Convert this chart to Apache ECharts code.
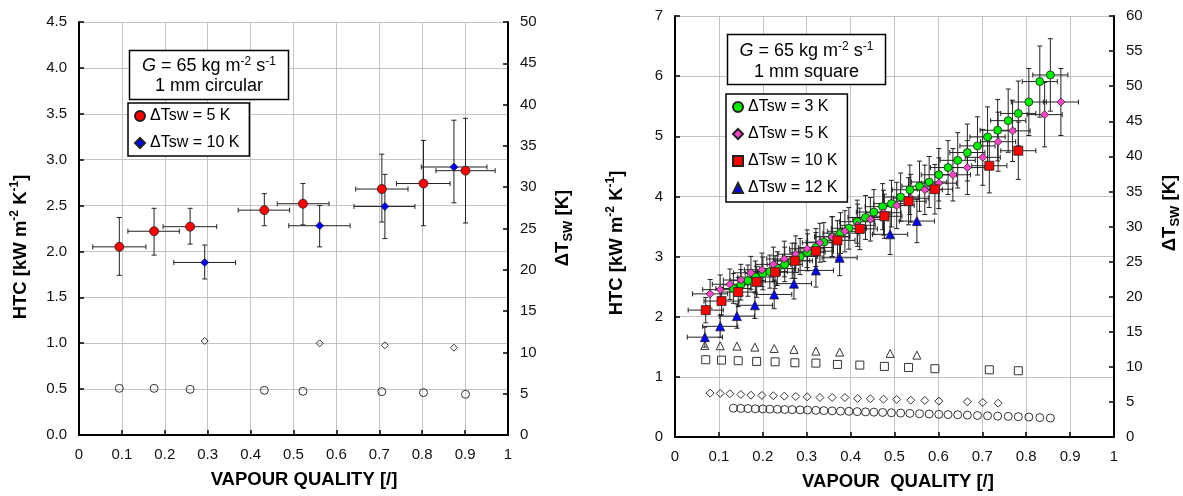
<!DOCTYPE html>
<html>
<head>
<meta charset="utf-8">
<script src="https://cdn.jsdelivr.net/npm/echarts@6/dist/echarts.min.js"></script>
<style>html,body{margin:0;padding:0;background:#fff}#c{width:1183px;height:496px}</style>
</head>
<body>
<div id="c"></div>
<script>
const FONT = '"Liberation Sans", Arial, Helvetica, sans-serif';

// ---------------- Left panel: G = 65, 1 mm circular ----------------
const circ5_x     = [0.094, 0.175, 0.259, 0.432, 0.522, 0.706, 0.803, 0.901];
const circ5_htc   = [2.05, 2.22, 2.27, 2.45, 2.52, 2.68, 2.74, 2.88];
const circ5_htcLo = [1.74, 1.96, 2.08, 2.28, 2.29, 2.32, 2.28, 2.31];
const circ5_htcHi = [2.37, 2.47, 2.47, 2.63, 2.74, 3.06, 3.21, 3.45];
const circ5_xLo   = [0.032, 0.114, 0.196, 0.371, 0.462, 0.645, 0.740, 0.832];
const circ5_xHi   = [0.156, 0.234, 0.321, 0.491, 0.583, 0.767, 0.865, 0.970];
const circ5_dT    = [5.65, 5.65, 5.53, 5.41, 5.29, 5.25, 5.13, 4.93];

const circ10_x     = [0.293, 0.561, 0.713, 0.874];
const circ10_htc   = [1.88, 2.28, 2.49, 2.92];
const circ10_htcLo = [1.70, 2.05, 2.14, 2.53];
const circ10_htcHi = [2.07, 2.50, 2.84, 3.43];
const circ10_xLo   = [0.221, 0.489, 0.641, 0.798];
const circ10_xHi   = [0.365, 0.632, 0.783, 0.951];
const circ10_dT    = [11.38, 11.10, 10.86, 10.57];

// ---------------- Right panel: G = 65, 1 mm square ----------------
const sq3_x   = [0.133, 0.150, 0.166, 0.183, 0.200, 0.216, 0.233, 0.250, 0.267, 0.285, 0.302, 0.321, 0.339,
                 0.358, 0.377, 0.396, 0.415, 0.434, 0.453, 0.473, 0.493, 0.514, 0.535, 0.557, 0.579, 0.601,
                 0.622, 0.644, 0.666, 0.689, 0.712, 0.735, 0.759, 0.782, 0.806, 0.831, 0.855];
const sq3_htc = [2.47, 2.53, 2.60, 2.66, 2.72, 2.75, 2.80, 2.87, 2.93, 3.00, 3.07, 3.15, 3.24,
                 3.33, 3.39, 3.47, 3.58, 3.65, 3.74, 3.83, 3.88, 3.99, 4.11, 4.17, 4.24, 4.36,
                 4.48, 4.60, 4.73, 4.84, 4.99, 5.10, 5.26, 5.38, 5.57, 5.91, 6.02];
const sq3_dT  = [4.11, 4.07, 4.05, 4.02, 4.00, 3.97, 3.95, 3.92, 3.90, 3.87, 3.84, 3.80, 3.76,
                 3.72, 3.68, 3.66, 3.62, 3.58, 3.54, 3.50, 3.45, 3.41, 3.37, 3.32, 3.28, 3.23,
                 3.19, 3.17, 3.12, 3.07, 3.03, 2.98, 2.94, 2.89, 2.84, 2.77, 2.70];

const sq5_x   = [0.080, 0.103, 0.125, 0.150, 0.173, 0.198, 0.224, 0.249, 0.275, 0.301, 0.330, 0.358, 0.387,
                 0.416, 0.445, 0.475, 0.505, 0.537, 0.569, 0.601, 0.633, 0.666, 0.701, 0.736, 0.769, 0.842, 0.879];
const sq5_htc = [2.38, 2.45, 2.54, 2.61, 2.73, 2.78, 2.87, 2.96, 3.04, 3.13, 3.23, 3.33, 3.42,
                 3.52, 3.62, 3.73, 3.85, 3.97, 4.11, 4.22, 4.36, 4.48, 4.65, 4.91, 5.09, 5.36, 5.57];
const sq5_dTx = [0.080, 0.103, 0.125, 0.150, 0.173, 0.198, 0.224, 0.249, 0.275, 0.301, 0.330, 0.358, 0.387,
                 0.416, 0.445, 0.475, 0.505, 0.537, 0.569, 0.601, 0.666, 0.701, 0.736];
const sq5_dT  = [6.25, 6.21, 6.16, 6.06, 5.96, 5.92, 5.88, 5.82, 5.78, 5.73, 5.63, 5.63, 5.63,
                 5.49, 5.45, 5.39, 5.35, 5.25, 5.21, 5.11, 5.02, 4.92, 4.82];

const sq10_x   = [0.070, 0.106, 0.144, 0.186, 0.228, 0.273, 0.321, 0.370, 0.421, 0.477, 0.532, 0.592, 0.716, 0.782];
const sq10_htc = [2.11, 2.26, 2.41, 2.58, 2.74, 2.93, 3.09, 3.27, 3.46, 3.67, 3.92, 4.12, 4.51, 4.76];
const sq10_dT  = [11.01, 10.96, 10.87, 10.77, 10.72, 10.58, 10.53, 10.34, 10.25, 10.06, 9.91, 9.73, 9.58, 9.44];

const sq12_x   = [0.068, 0.103, 0.141, 0.182, 0.226, 0.271, 0.321, 0.375, 0.490, 0.551];
const sq12_htc = [1.66, 1.84, 2.01, 2.19, 2.37, 2.55, 2.77, 2.98, 3.37, 3.59];
const sq12_dT  = [13.05, 13.00, 12.95, 12.81, 12.62, 12.48, 12.24, 12.10, 11.91, 11.67];

// measurement uncertainty used for the square-channel error bars
const HTC_REL_UNC = 0.10;   // +/- 10 % on HTC
const XQ_ABS_UNC  = 0.04;   // +/- 0.04 on vapour quality

const legendText = {
  c5: 'ΔTsw = 5 K', c10: 'ΔTsw = 10 K',
  s3: 'ΔTsw = 3 K', s5: 'ΔTsw = 5 K', s10: 'ΔTsw = 10 K', s12: 'ΔTsw = 12 K'
};

// ---------------- helpers ----------------
const pts = (xs, ys) => xs.map((x, i) => [x, ys[i]]);
const errRows = (xs, ys, xlo, xhi, ylo, yhi) => xs.map((x, i) => [x, ys[i], xlo[i], xhi[i], ylo[i], yhi[i]]);
const relErrRows = (xs, ys) => xs.map((x, i) => [x, ys[i], x - XQ_ABS_UNC, x + XQ_ABS_UNC,
                                                 ys[i] * (1 - HTC_REL_UNC), ys[i] * (1 + HTC_REL_UNC)]);

function renderErr(params, api) {
  const x = api.value(0), y = api.value(1);
  const pL = api.coord([api.value(2), y]), pR = api.coord([api.value(3), y]);
  const pB = api.coord([x, api.value(4)]), pT = api.coord([x, api.value(5)]);
  const c = 2.5;
  const st = { stroke: '#222', lineWidth: 1 };
  const L = (x1, y1, x2, y2) => ({ type: 'line', shape: { x1, y1, x2, y2 }, style: st });
  return {
    type: 'group',
    children: [
      L(pL[0], pL[1], pR[0], pR[1]),
      L(pL[0], pL[1] - c, pL[0], pL[1] + c),
      L(pR[0], pR[1] - c, pR[0], pR[1] + c),
      L(pB[0], pB[1], pT[0], pT[1]),
      L(pB[0] - c, pB[1], pB[0] + c, pB[1]),
      L(pT[0] - c, pT[1], pT[0] + c, pT[1])
    ]
  };
}
function errSeries(data, xi, yi) {
  return {
    type: 'custom', xAxisIndex: xi, yAxisIndex: yi, data, renderItem: renderErr,
    encode: { x: 0, y: 1 }, z: 2, silent: true, clip: false
  };
}
function filled(name, data, xi, yi, symbol, size, color) {
  return {
    name, type: 'scatter', xAxisIndex: xi, yAxisIndex: yi, data, symbol, symbolSize: size,
    itemStyle: { color, borderColor: '#222', borderWidth: 0.8, opacity: 1 }, z: 5, silent: true
  };
}
function open(data, xi, yi, symbol, size) {
  return {
    type: 'scatter', xAxisIndex: xi, yAxisIndex: yi, data, symbol, symbolSize: size,
    itemStyle: { color: 'rgba(255,255,255,0)', borderColor: '#333', borderWidth: 1, opacity: 1 }, z: 3, silent: true
  };
}

const fmt1 = v => (Math.round(v * 10) / 10).toString();
const axisBase = {
  type: 'value',
  axisLine: { show: true, onZero: false, lineStyle: { color: '#000', width: 2 } },
  axisTick: { show: true, inside: true, length: 5, lineStyle: { color: '#000', width: 1.5 } },
  axisLabel: { color: '#111', fontSize: 15, fontFamily: FONT, margin: 12 },
  splitLine: { show: true, lineStyle: { color: '#c4c4c4', width: 1 } }
};
const mk = (o) => Object.assign({}, JSON.parse(JSON.stringify(axisBase)), o);

const xAxes = [
  mk({ gridIndex: 0, min: 0, max: 1, interval: 0.1 }),
  mk({ gridIndex: 1, min: 0, max: 1, interval: 0.1 })
];
xAxes.forEach(a => a.axisLabel.formatter = fmt1);

const yAxes = [
  mk({ gridIndex: 0, position: 'left', min: 0, max: 4.5, interval: 0.5 }),
  mk({ gridIndex: 0, position: 'right', min: 0, max: 50, interval: 5 }),
  mk({ gridIndex: 1, position: 'left', min: 0, max: 7, interval: 1 }),
  mk({ gridIndex: 1, position: 'right', min: 0, max: 60, interval: 5 })
];
yAxes[0].axisLabel.formatter = v => v.toFixed(1);
yAxes[1].splitLine.show = false;
yAxes[3].splitLine.show = false;

const series = [
  // left panel
  errSeries(errRows(circ5_x, circ5_htc, circ5_xLo, circ5_xHi, circ5_htcLo, circ5_htcHi), 0, 0),
  errSeries(errRows(circ10_x, circ10_htc, circ10_xLo, circ10_xHi, circ10_htcLo, circ10_htcHi), 0, 0),
  open(pts(circ5_x, circ5_dT), 0, 1, 'circle', 8),
  open(pts(circ10_x, circ10_dT), 0, 1, 'diamond', 7),
  filled('c5', pts(circ5_x, circ5_htc), 0, 0, 'circle', 9, '#ff0000'),
  filled('c10', pts(circ10_x, circ10_htc), 0, 0, 'diamond', 8, '#0000ff'),
  // right panel
  errSeries(relErrRows(sq3_x, sq3_htc), 1, 2),
  errSeries(relErrRows(sq5_x, sq5_htc), 1, 2),
  errSeries(relErrRows(sq10_x, sq10_htc), 1, 2),
  errSeries(relErrRows(sq12_x, sq12_htc), 1, 2),
  open(pts(sq3_x, sq3_dT), 1, 3, 'circle', 8),
  open(pts(sq5_dTx, sq5_dT), 1, 3, 'diamond', 8),
  open(pts(sq10_x, sq10_dT), 1, 3, 'rect', 8),
  open(pts(sq12_x, sq12_dT), 1, 3, 'triangle', 8),
  filled('s3', pts(sq3_x, sq3_htc), 1, 2, 'circle', 8, '#00ee00'),
  filled('s5', pts(sq5_x, sq5_htc), 1, 2, 'diamond', 8, '#ff44cc'),
  filled('s10', pts(sq10_x, sq10_htc), 1, 2, 'rect', 9, '#ff0000'),
  filled('s12', pts(sq12_x, sq12_htc), 1, 2, 'triangle', 9, '#0000ff')
];

const legendBase = {
  orient: 'vertical', itemGap: 9, itemWidth: 10, itemHeight: 10,
  borderColor: '#000', borderWidth: 1.5, backgroundColor: '#fff', borderRadius: 0,
  textStyle: { fontSize: 16, fontFamily: FONT, color: '#000', lineHeight: 18 },
  selectedMode: false, formatter: n => legendText[n], z: 20
};

const richSup = {
  n: { fontSize: 18, fontFamily: FONT, lineHeight: 20 },
  i: { fontSize: 18, fontFamily: FONT, fontStyle: 'italic', lineHeight: 20 },
  s: { fontSize: 12, fontFamily: FONT, verticalAlign: 'top', lineHeight: 20 }
};
function boxText(x, y, text, lh) {
  const rich = JSON.parse(JSON.stringify(richSup));
  Object.values(rich).forEach(r => r.lineHeight = lh);
  return {
    type: 'text', x, y, z: 101,
    style: { text, fontSize: 18, fontFamily: FONT, fill: '#000', lineHeight: lh,
             align: 'center', verticalAlign: 'middle', textAlign: 'center', textVerticalAlign: 'middle', rich }
  };
}
const axTitleRich = {
  b: { fontSize: 18.5, fontWeight: 'bold', fontFamily: FONT, lineHeight: 24 },
  sup: { fontSize: 12, fontWeight: 'bold', fontFamily: FONT, verticalAlign: 'top', lineHeight: 24 },
  sub: { fontSize: 13, fontWeight: 'bold', fontFamily: FONT, verticalAlign: 'bottom', lineHeight: 24 }
};
function axTitle(x, y, text, rot) {
  return {
    type: 'text', x, y, rotation: rot, z: 101,
    style: { text, fill: '#000', fontSize: 18.5, fontWeight: 'bold', fontFamily: FONT,
             align: 'center', verticalAlign: 'middle', textAlign: 'center', textVerticalAlign: 'middle',
             rich: axTitleRich }
  };
}
const HTC_T = '{b|HTC [kW m}{sup|-2}{b| K}{sup|-1}{b|]}';
const DT_T = '{b|ΔT}{sub|SW}{b| [K]}';

const option = {
  animation: false,
  backgroundColor: '#fff',
  grid: [
    { left: 79, top: 22, width: 429, height: 413, outerBoundsMode: 'none' },
    { left: 675, top: 16, width: 439, height: 421, outerBoundsMode: 'none' }
  ],
  xAxis: xAxes,
  yAxis: yAxes,
  legend: [
    Object.assign({}, legendBase, { data: ['c5', 'c10'], left: 128, top: 103, padding: [4, 10, 4, 6] }),
    Object.assign({}, legendBase, { data: ['s3', 's5', 's10', 's12'], left: 726, top: 94, padding: [4, 10, 5, 6] })
  ],
  graphic: [
    { type: 'rect', z: 100, shape: { x: 129.5, y: 50.5, width: 159, height: 49 },
      style: { fill: '#fff', stroke: '#000', lineWidth: 1.5 } },
    boxText(209, 76, '{i|G} = 65 kg m{s|-2} s{s|-1}\n1 mm circular', 20),
    { type: 'rect', z: 100, shape: { x: 727.5, y: 34.5, width: 158, height: 50 },
      style: { fill: '#fff', stroke: '#000', lineWidth: 1.5 } },
    boxText(806.5, 61.5, '{i|G} = 65 kg m{s|-2} s{s|-1}\n1 mm square', 21),
    axTitle(21, 247, HTC_T, Math.PI / 2),
    axTitle(563, 228, DT_T, Math.PI / 2),
    axTitle(617, 243, HTC_T, Math.PI / 2),
    axTitle(1170, 213, DT_T, Math.PI / 2),
    { type: 'text', x: 304, y: 480, z: 101,
      style: { text: 'VAPOUR QUALITY [/]', fill: '#000', fontSize: 18.5, fontWeight: 'bold', fontFamily: FONT,
               align: 'center', verticalAlign: 'middle', textAlign: 'center', textVerticalAlign: 'middle' } },
    { type: 'text', x: 898, y: 482, z: 101,
      style: { text: 'VAPOUR  QUALITY [/]', fill: '#000', fontSize: 18.5, fontWeight: 'bold', fontFamily: FONT,
               align: 'center', verticalAlign: 'middle', textAlign: 'center', textVerticalAlign: 'middle' } }
  ],
  series
};

const chart = echarts.init(document.getElementById('c'), null, { renderer: 'canvas' });
chart.setOption(option);
</script>
</body>
</html>
